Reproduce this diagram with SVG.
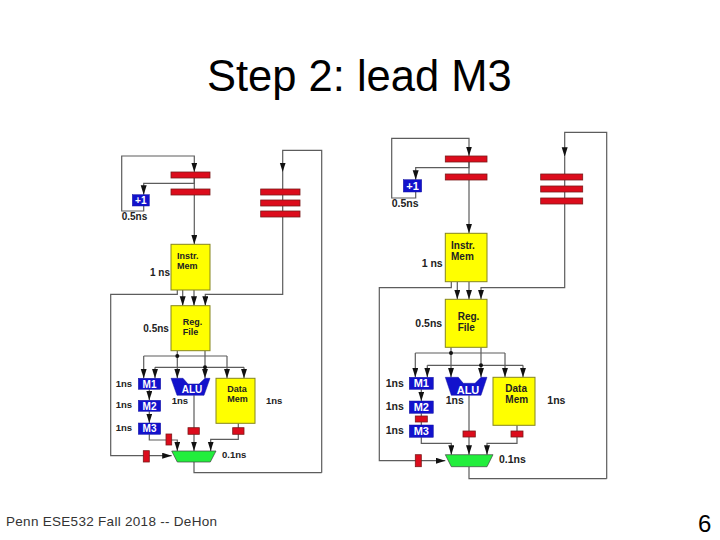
<svg xmlns="http://www.w3.org/2000/svg" width="720" height="540" viewBox="0 0 720 540">
<style>
text{font-family:"Liberation Sans",Arial,sans-serif}
.w{fill:none;stroke:#5c5c5c;stroke-width:1.200}
.a{marker-end:url(#ah)}
.r{fill:#dc0c1c;stroke:#7a1a1a;stroke-width:.8}
.y{fill:#ffff00;stroke:#85851e;stroke-width:1}
.b{fill:#1212cc;stroke:#1414a0;stroke-width:.5}
.g{fill:#22ee3c;stroke:#444;stroke-width:.7}
.d{fill:#111}
.t{font-size:9px;font-weight:bold;fill:#222}
.s{font-size:10px;font-weight:bold;fill:#222}
.u{font-size:10px;font-weight:bold;fill:#fff;text-anchor:middle}
.l{font-size:9.500px;font-weight:bold;fill:#222}
.ml{font-size:10.500px;font-weight:bold;fill:#222}
.mt{font-size:10px;font-weight:bold;fill:#222}
.mu{font-size:11px;font-weight:bold;fill:#fff;text-anchor:middle}
</style>
<defs><marker id="ah" markerUnits="userSpaceOnUse" markerWidth="10" markerHeight="7" refX="9.500" refY="3" orient="auto"><path d="M0 0L9.500 3L0 6z" fill="#111"/></marker></defs>
<rect width="720" height="540" fill="#fff"/>
<text id="title" x="207" y="91" font-size="43.500" fill="#000">Step 2: lead M3</text>
<text id="footer" x="6" y="526" font-size="13.500" fill="#333" textLength="211">Penn ESE532 Fall 2018 -- DeHon</text>
<text id="page" x="698" y="532" font-size="24" fill="#000">6</text>
<g id="connectors">
<path class="w a" d="M143.700 194.700V211H121.700V156H194.300V172"/>
<path class="w a" d="M194.300 172V183.300H143.700V194.700"/>
<path class="w a" d="M194.300 172V244.300"/>
<path class="w a" d="M321.700 472.700V150.300H282.700V172"/>
<path class="w a" d="M282.700 172V294.300H205.300V305.700"/>
<path class="w a" d="M177.300 290V294.300H110.700V455.700H171.700"/>
<path class="w a" d="M182.700 290V305.700"/>
<path class="w a" d="M194 290V305.700"/>
<path class="w" d="M177.300 350.700V356M143.700 356H227M205 350.700V367.300M155 367.300H244"/>
<path class="w a" d="M143.700 356V378.300"/><path class="w a" d="M177.300 356V378.300"/><path class="w a" d="M227 356V378.300"/>
<path class="w a" d="M155 367.300V378.300"/><path class="w a" d="M205 367.300V378.300"/><path class="w a" d="M244 367.300V378.300"/>
<path class="w a" d="M149.300 389.300V400.300"/><path class="w a" d="M149.300 411.300V423"/>
<path class="w a" d="M149.300 434.300V440H177.300V451"/>
<path class="w a" d="M194 395.300V451"/>
<path class="w a" d="M238.300 423.300V439.300H210.700V451"/>
<path class="w" d="M194 462V472.700H321.700"/>
<circle class="d" cx="177.300" cy="356" r="2"/><circle class="d" cx="205" cy="367.300" r="2"/>

<path class="w a" d="M415.700 179.700V198H391.700V138.300H469V156"/>
<path class="w a" d="M469 156V167.700H415.700V179.700"/>
<path class="w a" d="M469 156V233.300"/>
<path class="w a" d="M606.700 478.700V132.300H564.700V156.700"/>
<path class="w a" d="M564.700 156.700V287.700H481V299.300"/>
<path class="w a" d="M451.300 281.700V287.700H379.300V460.700H445.300"/>
<path class="w a" d="M457.300 281.700V299.300"/>
<path class="w a" d="M469 281.700V299.300"/>
<path class="w" d="M451 347.300V353M415.300 353H505M481 347.300V365.300M427.300 365.300H523"/>
<path class="w a" d="M415.300 353V377.300"/><path class="w a" d="M451 353V377.300"/><path class="w a" d="M505 353V377.300"/>
<path class="w a" d="M427.300 365.300V377.300"/><path class="w a" d="M481 365.300V377.300"/><path class="w a" d="M523 365.300V377.300"/>
<path class="w a" d="M421.300 389.300V401"/><path class="w" d="M421.300 413.300V425"/>
<path class="w a" d="M421.300 437.300V443.300H451.300V454.700"/>
<path class="w a" d="M469 395.300V454.700"/>
<path class="w a" d="M517 425.300V443.300H487V454.700"/>
<path class="w" d="M469 466.700V478.700H606.700"/>
<circle class="d" cx="451" cy="353" r="2"/><circle class="d" cx="481" cy="365.300" r="2"/>
</g>

<g id="left-pipeline">
<g id="l-pc1"><rect class="r" x="171" y="172" width="39" height="6"/></g>
<g id="l-pc2"><rect class="r" x="171" y="189" width="39" height="6"/></g>
<g id="l-rr1"><rect class="r" x="260.700" y="189" width="39.300" height="6"/></g>
<g id="l-rr2"><rect class="r" x="260.700" y="200" width="39.300" height="6"/></g>
<g id="l-rr3"><rect class="r" x="260.700" y="211" width="39.300" height="6"/></g>
<g id="l-inc"><rect class="b" x="132.300" y="194.700" width="17" height="11.300"/><text class="u" x="140.800" y="204">+1</text></g>
<text class="s" x="121.700" y="220">0.5ns</text>
<g id="l-imem"><rect class="y" x="171" y="244.300" width="39" height="45.700"/><text class="t" x="177" y="259">Instr.</text><text class="t" x="177" y="269">Mem</text></g>
<text class="s" x="150" y="276">1 ns</text>
<g id="l-reg"><rect class="y" x="171" y="305.700" width="39" height="45"/><text class="t" x="182.700" y="325">Reg.</text><text class="t" x="182.700" y="335">File</text></g>
<text class="s" x="143.300" y="331.700">0.5ns</text>
<g id="l-m1"><rect class="b" x="138.300" y="378.300" width="22.400" height="11"/><text class="u" x="149.500" y="387.500">M1</text></g>
<g id="l-m2"><rect class="b" x="138.300" y="400.300" width="22.400" height="11"/><text class="u" x="149.500" y="409.500">M2</text></g>
<g id="l-m3"><rect class="b" x="138.300" y="423" width="22.400" height="11.300"/><text class="u" x="149.500" y="432.300">M3</text></g>
<g id="l-alu"><path class="b" d="M171 378.300H183L188 384H199L205 378.300H210L204 395.300H177Z"/><text class="u" x="192" y="393">ALU</text></g>
<g id="l-dmem"><rect class="y" x="216" y="378.300" width="39" height="45"/><text class="t" x="227.300" y="392">Data</text><text class="t" x="227.300" y="402">Mem</text></g>
<text class="l" x="115.700" y="386.700">1ns</text><text class="l" x="115.700" y="408.300">1ns</text><text class="l" x="115.700" y="430.700">1ns</text>
<text class="l" x="171.700" y="404">1ns</text><text class="l" x="266" y="404">1ns</text>
<g id="l-rm3"><rect class="r" x="166" y="434" width="5.700" height="11"/></g>
<g id="l-ralu"><rect class="r" x="188" y="427.700" width="11.300" height="6.600"/></g>
<g id="l-rdm"><rect class="r" x="232.700" y="427.700" width="11.300" height="6.600"/></g>
<g id="l-rb"><rect class="r" x="143.300" y="450.700" width="6" height="11.300"/></g>
<g id="l-mux"><path class="g" d="M171.700 451H216L210.300 462H177.300Z"/></g>
<text class="l" x="222" y="458.300">0.1ns</text>
</g>

<g id="right-pipeline">
<g id="r-pc1"><rect class="r" x="445.300" y="156" width="41.700" height="6"/></g>
<g id="r-pc2"><rect class="r" x="445.300" y="174" width="41.700" height="6"/></g>
<g id="r-rr1"><rect class="r" x="540.700" y="174" width="42" height="6"/></g>
<g id="r-rr2"><rect class="r" x="540.700" y="186" width="42" height="6"/></g>
<g id="r-rr3"><rect class="r" x="540.700" y="198" width="42" height="6"/></g>
<g id="r-inc"><rect class="b" x="403.300" y="179.700" width="18.400" height="12.300"/><text class="mu" x="412.500" y="189.700">+1</text></g>
<text class="ml" x="391.700" y="206.700">0.5ns</text>
<g id="r-imem"><rect class="y" x="445.300" y="233.300" width="41.700" height="48.400"/><text class="mt" x="451" y="249">Instr.</text><text class="mt" x="451" y="260">Mem</text></g>
<text class="ml" x="421.700" y="266.700">1 ns</text>
<g id="r-reg"><rect class="y" x="445.300" y="299.300" width="41.700" height="48"/><text class="mt" x="457.700" y="320">Reg.</text><text class="mt" x="457.700" y="331">File</text></g>
<text class="ml" x="415.300" y="326.700">0.5ns</text>
<g id="r-m1"><rect class="b" x="409.300" y="377.300" width="24" height="12"/><text class="mu" x="421.300" y="387.200">M1</text></g>
<g id="r-m2"><rect class="b" x="409.300" y="401" width="24" height="12.300"/><text class="mu" x="421.300" y="411">M2</text></g>
<g id="r-m3"><rect class="b" x="409.300" y="425" width="24" height="12.300"/><text class="mu" x="421.300" y="435">M3</text></g>
<g id="r-alu"><path class="b" d="M445.300 377.300H458.300L463.300 383.300H475L481 377.300H487L481 395.300H451.300Z"/><text class="mu" x="468" y="393.500">ALU</text></g>
<g id="r-dmem"><rect class="y" x="493" y="377.300" width="42" height="48"/><text class="mt" x="505.300" y="392">Data</text><text class="mt" x="505.300" y="403">Mem</text></g>
<text class="ml" x="385.700" y="386.700">1ns</text><text class="ml" x="385.700" y="410">1ns</text><text class="ml" x="385.700" y="433.700">1ns</text>
<text class="ml" x="445.700" y="404.300">1ns</text><text class="ml" x="547.300" y="404.300">1ns</text>
<g id="r-rm"><rect class="r" x="415.300" y="416" width="12" height="6"/></g>
<g id="r-ralu"><rect class="r" x="463" y="431" width="12.300" height="6"/></g>
<g id="r-rdm"><rect class="r" x="511" y="431" width="12" height="6"/></g>
<g id="r-rb"><rect class="r" x="415.300" y="454.700" width="6" height="12"/></g>
<g id="r-mux"><path class="g" d="M445.300 454.700H493L487 466.700H451.300Z"/></g>
<text class="ml" x="499" y="463.300">0.1ns</text>
</g>
</svg>
